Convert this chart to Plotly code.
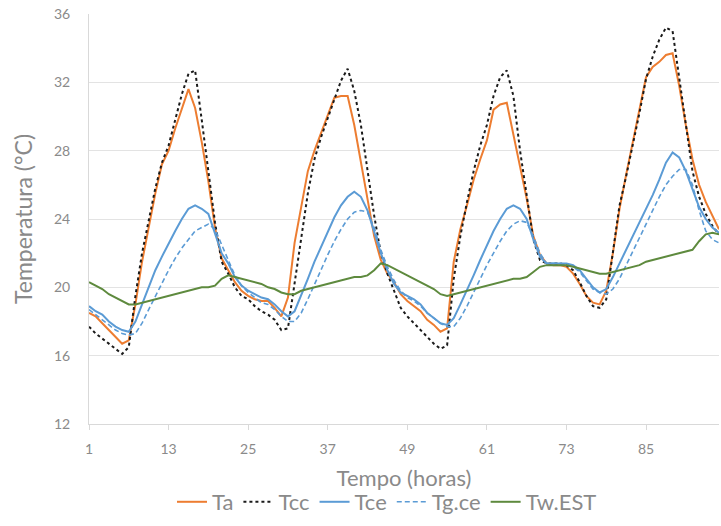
import plotly.graph_objects as go

hours = list(range(1, 97))

Ta = [18.5, 18.3, 17.9, 17.5, 17.1, 16.7, 16.9, 19.0, 21.5, 23.5, 25.5, 27.2, 28.0, 29.3, 30.5, 31.6,
      30.5, 28.5, 26.2, 23.5, 21.7, 21.0, 20.3, 19.8, 19.5, 19.3, 19.2, 19.2, 18.8, 18.3, 19.4, 22.6,
      24.8, 26.8, 28.0, 29.0, 30.0, 31.1, 31.2, 31.2, 29.5, 27.3, 25.0, 23.0, 21.6, 20.8, 20.3, 19.6,
      19.2, 18.9, 18.6, 18.1, 17.8, 17.4, 17.6, 21.5, 23.4, 24.8, 26.3, 27.5, 28.6, 30.4, 30.7, 30.8,
      29.0, 27.2, 25.2, 23.0, 21.9, 21.4, 21.3, 21.3, 21.2, 20.8, 20.2, 19.5, 19.1, 19.0, 19.8, 22.0,
      24.6, 26.6, 28.5, 30.3, 32.3, 32.9, 33.2, 33.6, 33.7, 31.8, 29.5, 27.5, 26.0, 25.0, 24.2, 23.4]

Tcc = [17.7, 17.3, 17.0, 16.7, 16.4, 16.1, 16.5, 19.5, 22.0, 24.0, 25.8, 27.3, 28.3, 29.8, 31.3, 32.5,
       32.7, 29.8, 26.8, 23.8, 21.5, 20.8, 20.0, 19.5, 19.3, 18.9, 18.6, 18.4, 18.1, 17.5, 17.6, 20.3,
       22.8, 25.5, 27.5, 28.8, 29.9, 31.0, 32.1, 32.8, 31.5, 29.5, 26.8, 24.2, 22.0, 20.8, 19.8, 18.8,
       18.3, 17.9, 17.5, 17.1, 16.7, 16.4, 16.6, 20.5, 23.0, 25.0, 26.8, 28.3, 29.5, 31.2, 32.3, 32.7,
       31.2, 28.0, 25.5, 22.8, 21.6, 21.4, 21.4, 21.4, 21.3, 21.0, 20.3, 19.5, 18.9, 18.8, 19.3, 22.0,
       24.8, 26.5, 28.3, 30.2, 32.2, 33.5, 34.5, 35.2, 35.0, 32.3, 29.5, 26.8, 25.3, 24.3, 23.6, 23.1]

Tce = [18.9, 18.6, 18.4, 18.0, 17.7, 17.5, 17.4, 18.0, 19.0, 20.0, 21.0, 21.8, 22.6, 23.3, 24.0, 24.6,
       24.8, 24.6, 24.3, 23.2, 22.0, 21.4, 20.6, 20.1, 19.8, 19.6, 19.4, 19.3, 19.0, 18.6, 18.3, 18.6,
       19.5, 20.5, 21.5, 22.4, 23.3, 24.1, 24.8, 25.3, 25.6, 25.3, 24.5, 23.2, 22.0, 21.0, 20.2, 19.7,
       19.5, 19.3, 19.0, 18.5, 18.2, 17.9, 17.8, 18.2, 19.0, 19.8, 20.7, 21.6, 22.5, 23.3, 24.0, 24.6,
       24.8, 24.6, 24.0, 22.8, 21.8, 21.4, 21.4, 21.4, 21.4, 21.3, 21.0, 20.5, 20.0, 19.7, 19.9, 20.6,
       21.4, 22.2, 23.0, 23.8, 24.6, 25.4, 26.3, 27.3, 27.9, 27.6, 26.8, 25.7, 24.7, 24.0, 23.5, 23.2]

Tg_ce = [18.7, 18.4, 18.1, 17.8, 17.5, 17.3, 17.2, 17.3, 17.9, 18.7, 19.5, 20.3, 21.0, 21.7, 22.3, 22.8,
         23.3, 23.5, 23.7, 23.4, 22.5, 21.5, 20.7, 20.1, 19.7, 19.4, 19.1, 19.0, 18.7, 18.3, 18.0, 18.0,
         18.5, 19.3, 20.2, 21.0, 21.9, 22.7, 23.4, 24.0, 24.4, 24.5, 24.4, 23.5, 22.2, 21.2, 20.4, 19.8,
         19.4, 19.2, 18.9, 18.5, 18.2, 17.9, 17.7, 17.7, 18.2, 18.9, 19.7, 20.5, 21.3, 22.0, 22.7, 23.3,
         23.7, 23.9, 23.8, 23.0, 22.0, 21.4, 21.4, 21.4, 21.3, 21.2, 20.9, 20.4, 19.9, 19.7, 19.6, 19.9,
         20.5, 21.3, 22.1, 22.9, 23.7, 24.5, 25.3, 26.0, 26.5, 26.9, 26.9, 26.0, 24.5, 23.3, 22.8, 22.6]

Tw_EST = [20.3, 20.1, 19.9, 19.6, 19.4, 19.2, 19.0, 19.0, 19.1, 19.2, 19.3, 19.4, 19.5, 19.6, 19.7, 19.8,
          19.9, 20.0, 20.0, 20.1, 20.5, 20.7, 20.6, 20.5, 20.4, 20.3, 20.2, 20.0, 19.9, 19.7, 19.6, 19.6,
          19.8, 19.9, 20.0, 20.1, 20.2, 20.3, 20.4, 20.5, 20.6, 20.6, 20.7, 21.0, 21.4, 21.3, 21.1, 20.9,
          20.7, 20.5, 20.3, 20.1, 19.9, 19.6, 19.5, 19.6, 19.7, 19.8, 19.9, 20.0, 20.1, 20.2, 20.3, 20.4,
          20.5, 20.5, 20.6, 20.9, 21.2, 21.3, 21.3, 21.3, 21.3, 21.2, 21.1, 21.0, 20.9, 20.8, 20.8, 20.9,
          21.0, 21.1, 21.2, 21.3, 21.5, 21.6, 21.7, 21.8, 21.9, 22.0, 22.1, 22.2, 22.7, 23.1, 23.2, 23.1]

x_tickvals = [1, 13, 25, 37, 49, 61, 73, 85]
y_tickvals = [12, 16, 20, 24, 28, 32, 36]

FONT = "Lato, 'Open Sans', sans-serif"
TXT = "#8a8a8a"
series = [
    ("Ta", Ta, "#ED7D31", "solid", 2),
    ("Tcc", Tcc, "#1a1a1a", "dot", 2),
    ("Tce", Tce, "#5B9BD5", "solid", 2),
    ("Tg.ce", Tg_ce, "#5B9BD5", "5px,3px", 1.6),
    ("Tw.EST", Tw_EST, "#5E8A3E", "solid", 2),
]

fig = go.Figure()
for name, vals, color, dash, w in series:
    fig.add_trace(go.Scatter(x=hours, y=vals, name=name, mode="lines",
                             line=dict(color=color, dash=dash, width=w)))

fig.update_layout(
    width=721, height=526,
    margin=dict(l=89, r=2, t=14, b=102),
    paper_bgcolor="white", plot_bgcolor="white",
    font=dict(family=FONT, color=TXT, size=14),
    showlegend=True,
    legend=dict(orientation="h", x=0.473, xanchor="center", y=-0.139, yanchor="top",
                font=dict(size=22, color=TXT), itemwidth=30, tracegroupgap=0,
                bgcolor="rgba(0,0,0,0)"),
    xaxis=dict(range=[1, 96], tickmode="array", tickvals=x_tickvals,
               ticktext=[str(v) for v in x_tickvals], automargin=False,
               showgrid=False, showline=True, linecolor="#d9d9d9", linewidth=1,
               ticks="outside", tickcolor="#d9d9d9", ticklen=5, ticklabelstandoff=7,
               tickfont=dict(size=14, color=TXT),
               title=dict(text="Tempo (horas)", font=dict(size=22, color=TXT), standoff=14),
               zeroline=False),
    yaxis=dict(range=[12, 36], tickmode="array", tickvals=y_tickvals, automargin=False,
               showgrid=True, gridcolor="#e3e3e3", gridwidth=1,
               showline=True, linecolor="#d9d9d9", linewidth=1,
               tickfont=dict(size=14, color=TXT), ticklabelstandoff=15,
               title=dict(text="Temperatura (°C)", font=dict(size=23, color=TXT), standoff=14),
               zeroline=False),
)

fig.write_html("out.html", config={"displayModeBar": False},
               post_script="document.body.style.margin='0';document.body.style.overflow='hidden';")
